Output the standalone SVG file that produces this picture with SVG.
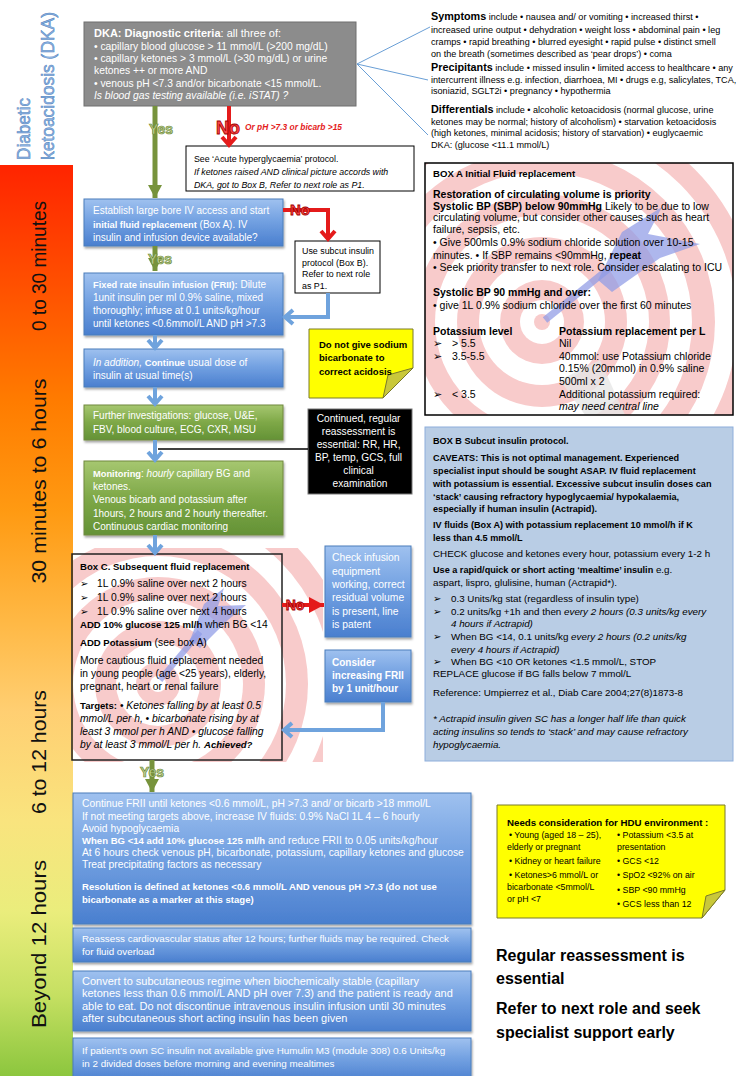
<svg xmlns="http://www.w3.org/2000/svg" width="740" height="1076" viewBox="0 0 740 1076">
<defs>
<linearGradient id="gBar" x1="0" y1="165" x2="0" y2="1076" gradientUnits="userSpaceOnUse">
<stop offset="0" stop-color="#ff2400"/><stop offset="0.12" stop-color="#ff4c00"/><stop offset="0.26" stop-color="#ff7c00"/><stop offset="0.38" stop-color="#ff9a12"/><stop offset="0.5" stop-color="#ffb844"/><stop offset="0.6" stop-color="#ffcf72"/><stop offset="0.72" stop-color="#f9e47e"/><stop offset="0.82" stop-color="#eaed7c"/><stop offset="0.91" stop-color="#c6e062"/><stop offset="1" stop-color="#8cc63e"/>
</linearGradient>
<linearGradient id="gBlue" x1="0" y1="0" x2="0" y2="1">
<stop offset="0" stop-color="#9fc1ef"/><stop offset="0.45" stop-color="#74a2e2"/><stop offset="1" stop-color="#4a7fcf"/>
</linearGradient>
<linearGradient id="gGreen" x1="0" y1="0" x2="0" y2="1">
<stop offset="0" stop-color="#a6c770"/><stop offset="0.5" stop-color="#7ea847"/><stop offset="1" stop-color="#649236"/>
</linearGradient>
<filter id="sh" x="-5%" y="-10%" width="115%" height="130%"><feDropShadow dx="1" dy="2" stdDeviation="1.2" flood-color="#000" flood-opacity="0.35"/></filter>
<clipPath id="clipA"><rect x="425" y="163" width="308" height="252"/></clipPath>
<clipPath id="clipC"><rect x="73" y="548" width="250" height="214"/></clipPath>
<marker id="mBlue" markerUnits="userSpaceOnUse" markerWidth="18" markerHeight="18" refX="13" refY="9" orient="auto"><path d="M5,2 L13,9 L5,16" fill="none" stroke="#6fa3dd" stroke-width="4"/></marker>
<marker id="mRed" markerUnits="userSpaceOnUse" markerWidth="18" markerHeight="18" refX="13" refY="9" orient="auto"><path d="M5,2 L13,9 L5,16" fill="none" stroke="#e41b1b" stroke-width="4"/></marker>
<marker id="mGreen" markerUnits="userSpaceOnUse" markerWidth="14" markerHeight="14" refX="13" refY="7" orient="auto"><path d="M0,0 L13,7 L0,14 z" fill="#77933c"/></marker>
<marker id="mRedT" markerUnits="userSpaceOnUse" markerWidth="16" markerHeight="16" refX="15" refY="8" orient="auto"><path d="M0,0 L15,8 L0,16 z" fill="#e41b1b"/></marker>
</defs>
<style>
text{font-family:"Liberation Sans",Arial,sans-serif}
.w{fill:#fff}
.k{fill:#000}
.B{font-weight:bold}
.b{font-weight:bold;font-size:93%}
.i{font-style:italic}
.blue{fill:url(#gBlue);stroke:#4a7ebb;stroke-width:1;filter:url(#sh)}
.green{fill:url(#gGreen);stroke:#71893f;stroke-width:1;filter:url(#sh)}
.plain{fill:#fff;stroke:#000;stroke-width:1}
.note{fill:#ffff00;stroke:#7a7a2a;stroke-width:1}
.fold{fill:#c9c83a;stroke:#7a7a2a;stroke-width:1}
.pink{fill:#f8cbcb}
.wh{fill:#fff}
.dart{fill:#8f9be6;opacity:0.72}
.cB{stroke:#6fa3dd;stroke-width:4;fill:none}
.cG{stroke:#77933c;stroke-width:5;fill:none}
.cR{stroke:#e41b1b;stroke-width:4;fill:none}
.fan{stroke:#6a9fd6;stroke-width:1;fill:none}
.yes{font-weight:bold;font-size:14px;fill:#c4d79b;stroke:#6e8a36;stroke-width:0.7}
.no{font-weight:bold;fill:#ff4646;stroke:#a00000;stroke-width:0.8}
.tl{font-size:21px;fill:#111}
.dka{font-size:19px;fill:#8db3e2;stroke:#4f81bd;stroke-width:0.5}
</style>

<g id="timeline">
<rect x="0" y="165" width="73" height="911" fill="url(#gBar)"/>
<text class="tl" transform="translate(46,266) rotate(-90)" text-anchor="middle" textLength="130" lengthAdjust="spacingAndGlyphs">0 to 30 minutes</text>
<text class="tl" transform="translate(46,481) rotate(-90)" text-anchor="middle" textLength="205" lengthAdjust="spacingAndGlyphs">30 minutes to 6 hours</text>
<text class="tl" transform="translate(46,752) rotate(-90)" text-anchor="middle" textLength="124" lengthAdjust="spacingAndGlyphs">6 to 12 hours</text>
<text class="tl" transform="translate(46,944) rotate(-90)" text-anchor="middle" textLength="168" lengthAdjust="spacingAndGlyphs">Beyond 12 hours</text>
<text class="dka" transform="translate(30,160) rotate(-90)" textLength="62" lengthAdjust="spacingAndGlyphs">Diabetic</text>
<text class="dka" transform="translate(54,160) rotate(-90)" textLength="148" lengthAdjust="spacingAndGlyphs">ketoacidosis (DKA)</text>
</g>

<g id="n-criteria">
<rect x="84" y="22" width="272" height="84" fill="#8c8c8c" stroke="#6f6f6f"/>
<text class="w" font-size="10.3">
<tspan x="94" y="37" font-size="11"><tspan class="B">DKA: Diagnostic criteria</tspan>: all three of:</tspan>
<tspan x="94" y="50">• capillary blood glucose &gt; 11 mmol/L (&gt;200 mg/dL)</tspan>
<tspan x="94" y="62">• capillary ketones &gt; 3 mmol/L (&gt;30 mg/dL) or urine</tspan>
<tspan x="94" y="74">ketones ++ or more AND</tspan>
<tspan x="94" y="87">• venous pH &lt;7.3 and/or bicarbonate &lt;15 mmol/L.</tspan>
<tspan x="94" y="99" class="i">Is blood gas testing available (i.e. iSTAT) ?</tspan>
</text>
</g>

<g id="n-info">
<text class="k" font-size="9.1">
<tspan x="431" y="20"><tspan class="B" font-size="10.8">Symptoms</tspan> include • nausea and/ or vomiting • increased thirst •</tspan>
<tspan x="431" y="33">increased urine output • dehydration • weight loss • abdominal pain • leg</tspan>
<tspan x="431" y="45">cramps • rapid breathing • blurred eyesight • rapid pulse • distinct smell</tspan>
<tspan x="431" y="57">on the breath (sometimes described as ‘pear drops’) • coma</tspan>
<tspan x="431" y="71"><tspan class="B" font-size="10.8">Precipitants</tspan> include • missed insulin • limited access to healthcare • any</tspan>
<tspan x="431" y="83">intercurrent illness e.g. infection, diarrhoea, MI • drugs e.g, salicylates, TCA,</tspan>
<tspan x="431" y="94">isoniazid, SGLT2i • pregnancy  • hypothermia</tspan>
<tspan x="431" y="113"><tspan class="B" font-size="10.8">Differentials</tspan> include • alcoholic ketoacidosis (normal glucose, urine</tspan>
<tspan x="431" y="125">ketones may be normal; history of alcoholism) • starvation ketoacidosis</tspan>
<tspan x="431" y="136">(high ketones, minimal acidosis; history of starvation) • euglycaemic</tspan>
<tspan x="431" y="148">DKA: (glucose &lt;11.1 mmol/L)</tspan>
</text>
</g>

<g id="n-acute">
<rect x="186" y="146" width="228" height="45" class="plain"/>
<text class="k" font-size="8.8">
<tspan x="194" y="162">See ‘Acute hyperglycaemia’ protocol.</tspan>
<tspan x="194" y="175" class="i">If ketones raised AND clinical picture accords with</tspan>
<tspan x="194" y="188" class="i">DKA, got to Box B, Refer to next role as P1.</tspan>
</text>
</g>

<g id="n-access">
<rect x="84" y="199" width="199" height="47" class="blue"/>
<text class="w" font-size="10">
<tspan x="93" y="214">Establish large bore IV access and start</tspan>
<tspan x="93" y="228"><tspan class="b">initial fluid replacement</tspan> (Box A). IV</tspan>
<tspan x="93" y="241">insulin and infusion device available?</tspan>
</text>
</g>

<g id="n-subcut">
<rect x="295" y="241" width="85" height="52" class="plain"/>
<text class="k" font-size="8.9">
<tspan x="302" y="254">Use subcut insulin</tspan>
<tspan x="302" y="266">protocol (Box B).</tspan>
<tspan x="302" y="277">Refer to next role</tspan>
<tspan x="302" y="289">as P1.</tspan>
</text>
</g>

<g id="n-boxA">
<rect x="425" y="163" width="308" height="252" fill="#fff"/>
<g clip-path="url(#clipA)">
<circle cx="542" cy="322" r="240" class="wh"/>
<circle cx="542" cy="322" r="216" class="pink"/>
<circle cx="542" cy="322" r="195" class="wh"/>
<circle cx="542" cy="322" r="173" class="pink"/>
<circle cx="542" cy="322" r="150" class="wh"/>
<circle cx="542" cy="322" r="128" class="pink"/>
<circle cx="542" cy="322" r="107" class="wh"/>
<circle cx="542" cy="322" r="85" class="pink"/>
<circle cx="542" cy="322" r="63" class="wh"/>
<circle cx="542" cy="322" r="42" class="pink"/>
<circle cx="542" cy="322" r="22" class="wh"/>
<circle cx="542" cy="322" r="8" class="pink"/>
<path d="M560,380 L600,360 L625,415 L585,415 z" fill="#e6e6e6" opacity="0.8"/>
<line x1="545" y1="320" x2="612" y2="266" stroke="#8f9be6" stroke-width="7" opacity="0.72"/>
<path class="dart" d="M598,280 L622,232 L662,207 L648,234 L700,244 L660,258 L612,292 z"/>
</g>
<rect x="425" y="163" width="308" height="252" fill="none" stroke="#000" stroke-width="1.5"/>
<text class="k" font-size="10.5">
<tspan x="433" y="177" class="B" font-size="9.6">BOX A Initial Fluid replacement</tspan>
<tspan x="433" y="198" class="B">Restoration of circulating volume is priority</tspan>
<tspan x="433" y="210"><tspan class="B">Systolic BP (SBP) below 90mmHg</tspan> Likely to be due to low</tspan>
<tspan x="433" y="221">circulating volume, but consider other causes such as heart</tspan>
<tspan x="433" y="233">failure, sepsis, etc.</tspan>
<tspan x="433" y="246">• Give 500mls 0.9% sodium chloride solution over 10-15</tspan>
<tspan x="433" y="259">minutes. • If SBP remains &lt;90mmHg, <tspan class="B">repeat</tspan></tspan>
<tspan x="433" y="271">• Seek priority transfer to next role. Consider escalating to ICU</tspan>
<tspan x="433" y="296" class="B">Systolic BP 90 mmHg and over:</tspan>
<tspan x="433" y="309">• give 1L 0.9% sodium chloride over the first 60 minutes</tspan>
<tspan x="433" y="335" class="B">Potassium level</tspan><tspan x="559" y="335" class="B">Potassium replacement per L</tspan>
<tspan x="433" y="347">➢</tspan><tspan x="452" y="347">&gt; 5.5</tspan><tspan x="559" y="347">Nil</tspan>
<tspan x="433" y="360">➢</tspan><tspan x="452" y="360">3.5-5.5</tspan><tspan x="559" y="360">40mmol: use Potassium chloride</tspan>
<tspan x="559" y="372">0.15% (20mmol) in 0.9% saline</tspan>
<tspan x="559" y="385">500ml x 2</tspan>
<tspan x="433" y="398">➢</tspan><tspan x="452" y="398">&lt; 3.5</tspan><tspan x="559" y="398">Additional potassium required:</tspan>
<tspan x="559" y="410" class="i">may need central line</tspan>
</text>
</g>

<g id="n-frii">
<rect x="84" y="273" width="199" height="62" class="blue"/>
<text class="w" font-size="10">
<tspan x="93" y="288"><tspan class="b">Fixed rate insulin infusion (FRII):</tspan> Dilute</tspan>
<tspan x="93" y="301">1unit insulin per ml 0.9% saline, mixed</tspan>
<tspan x="93" y="314">thoroughly; infuse at 0.1 units/kg/hour</tspan>
<tspan x="93" y="327">until ketones &lt;0.6mmol/L AND pH &gt;7.3</tspan>
</text>
</g>

<g id="n-bicarb">
<path class="note" d="M309,329 H413 V368 L383,398 H309 z"/>
<path class="fold" d="M413,368 L388,375 L383,398 z"/>
<text class="k B" font-size="9.5">
<tspan x="319" y="348">Do not give sodium</tspan>
<tspan x="319" y="361">bicarbonate to</tspan>
<tspan x="319" y="375">correct acidosis</tspan>
</text>
</g>

<g id="n-usual">
<rect x="84" y="349" width="199" height="38" class="blue"/>
<text class="w" font-size="10">
<tspan x="93" y="366"><tspan class="i">In addition,</tspan> <tspan class="b">Continue</tspan> usual dose of</tspan>
<tspan x="93" y="379">insulin at usual time(s)</tspan>
</text>
</g>

<g id="n-invest">
<rect x="84" y="405" width="199" height="35" class="green"/>
<text class="w" font-size="10">
<tspan x="93" y="419">Further investigations: glucose, U&amp;E,</tspan>
<tspan x="93" y="433">FBV, blood culture, ECG, CXR, MSU</tspan>
</text>
</g>

<g id="n-reassess">
<rect x="308" y="409" width="104" height="85" fill="#000" stroke="#777"/>
<text class="w" font-size="10.2" text-anchor="middle">
<tspan x="360" y="422">Continued, regular</tspan>
<tspan x="360" y="435">reassessment is</tspan>
<tspan x="360" y="448">essential: RR, HR,</tspan>
<tspan x="360" y="461">BP, temp, GCS, full</tspan>
<tspan x="360" y="474">clinical</tspan>
<tspan x="360" y="487">examination</tspan>
</text>
</g>

<g id="n-monitor">
<rect x="84" y="461" width="199" height="74" class="green"/>
<text class="w" font-size="10">
<tspan x="93" y="477"><tspan class="b">Monitoring</tspan>: <tspan class="i">hourly</tspan> capillary BG and</tspan>
<tspan x="93" y="490">ketones.</tspan>
<tspan x="93" y="503">Venous bicarb and potassium after</tspan>
<tspan x="93" y="517">1hours, 2 hours and 2 hourly thereafter.</tspan>
<tspan x="93" y="530">Continuous cardiac monitoring</tspan>
</text>
</g>

<g id="n-boxB">
<rect x="425" y="427" width="308" height="334" fill="#b9cde5" stroke="#8eaedb"/>
<text class="k" font-size="9.8">
<tspan x="433" y="444" class="b">BOX B Subcut insulin protocol.</tspan>
<tspan x="433" y="461" class="b">CAVEATS: This is not optimal management. Experienced</tspan>
<tspan x="433" y="474" class="b">specialist input should be sought ASAP. IV fluid replacement</tspan>
<tspan x="433" y="487" class="b">with potassium is essential. Excessive subcut insulin doses can</tspan>
<tspan x="433" y="500" class="b">‘stack’ causing refractory hypoglycaemia/ hypokalaemia,</tspan>
<tspan x="433" y="512" class="b">especially if human insulin (Actrapid).</tspan>
<tspan x="433" y="528" class="b">IV fluids (Box A) with potassium replacement 10 mmol/h if K</tspan>
<tspan x="433" y="541" class="b">less than 4.5 mmol/L</tspan>
<tspan x="433" y="557">CHECK glucose and ketones every hour, potassium every 1-2 h</tspan>
<tspan x="433" y="573"><tspan class="b">Use a rapid/quick or short acting ‘mealtime’ insulin</tspan> e.g.</tspan>
<tspan x="433" y="586">aspart, lispro, glulisine, human (Actrapid*).</tspan>
<tspan x="433" y="602">➢</tspan><tspan x="451" y="602">0.3 Units/kg stat (regardless of insulin type)</tspan>
<tspan x="433" y="615">➢</tspan><tspan x="451" y="615">0.2 units/kg +1h and then <tspan class="i">every 2 hours (0.3 units/kg every</tspan></tspan>
<tspan x="451" y="627" class="i">4 hours if Actrapid)</tspan>
<tspan x="433" y="640">➢</tspan><tspan x="451" y="640">When BG &lt;14, 0.1 units/kg <tspan class="i">every 2 hours (0.2 units/kg</tspan></tspan>
<tspan x="451" y="653" class="i">every 4 hours if Actrapid)</tspan>
<tspan x="433" y="665">➢</tspan><tspan x="451" y="665">When BG &lt;10 OR ketones &lt;1.5 mmol/L, STOP</tspan>
<tspan x="433" y="677">REPLACE glucose if BG falls below 7 mmol/L</tspan>
<tspan x="433" y="696">Reference: Umpierrez et al., Diab Care 2004;27(8)1873-8</tspan>
<tspan x="433" y="722" class="i">* Actrapid insulin given SC has a longer half life than quick</tspan>
<tspan x="433" y="735" class="i">acting insulins so tends to ‘stack’ and may cause refractory</tspan>
<tspan x="433" y="748" class="i">hypoglycaemia.</tspan>
</text>
</g>

<g id="n-boxC">
<g clip-path="url(#clipC)">
<rect x="73" y="548" width="250" height="214" fill="#fff"/>
<circle cx="158" cy="684" r="195" class="pink"/>
<circle cx="158" cy="684" r="173" class="wh"/>
<circle cx="158" cy="684" r="150" class="pink"/>
<circle cx="158" cy="684" r="128" class="wh"/>
<circle cx="158" cy="684" r="107" class="pink"/>
<circle cx="158" cy="684" r="85" class="wh"/>
<circle cx="158" cy="684" r="63" class="pink"/>
<circle cx="158" cy="684" r="42" class="wh"/>
<circle cx="158" cy="684" r="22" class="pink"/>
<circle cx="158" cy="684" r="8" class="wh"/>
<line x1="160" y1="680" x2="200" y2="632" stroke="#8f9be6" stroke-width="6" opacity="0.72"/>
<path class="dart" d="M190,640 L204,604 L224,588 L218,606 L246,605 L228,620 L200,648 z"/>
</g>
<rect x="72" y="554" width="210" height="206" fill="none" stroke="#222" stroke-width="1.5"/>
<text class="k" font-size="10.3">
<tspan x="80" y="570" class="b">Box C. Subsequent fluid replacement</tspan>
<tspan x="80" y="587">➢</tspan><tspan x="97" y="587">1L 0.9% saline over next 2 hours</tspan>
<tspan x="80" y="601">➢</tspan><tspan x="97" y="601">1L 0.9% saline over next 2 hours</tspan>
<tspan x="80" y="615">➢</tspan><tspan x="97" y="615">1L 0.9% saline over next 4 hours</tspan>
<tspan x="80" y="628"><tspan class="b">ADD 10% glucose 125 ml/h</tspan>  when BG &lt;14</tspan>
<tspan x="80" y="646"><tspan class="b">ADD Potassium</tspan> (see box A)</tspan>
<tspan x="80" y="664">More cautious fluid replacement needed</tspan>
<tspan x="80" y="677">in young people (age &lt;25 years), elderly,</tspan>
<tspan x="80" y="690">pregnant, heart or renal failure</tspan>
<tspan x="80" y="709"><tspan class="b">Targets:</tspan> • <tspan class="i">Ketones falling by at least 0.5</tspan></tspan>
<tspan x="80" y="722" class="i">mmol/L per h, • bicarbonate rising by at</tspan>
<tspan x="80" y="735" class="i">least 3 mmol per h AND • glucose falling</tspan>
<tspan x="80" y="748"><tspan class="i">by at least 3 mmol/L per h.</tspan> <tspan class="b i">Achieved?</tspan></tspan>
</text>
</g>

<g id="n-check">
<rect x="325" y="546" width="86" height="91" class="blue"/>
<text class="w" font-size="10.3">
<tspan x="332" y="561">Check infusion</tspan>
<tspan x="332" y="575">equipment</tspan>
<tspan x="332" y="588">working, correct</tspan>
<tspan x="332" y="601">residual volume</tspan>
<tspan x="332" y="615">is present, line</tspan>
<tspan x="332" y="628">is patent</tspan>
</text>
</g>

<g id="n-consider">
<rect x="325" y="650" width="86" height="52" class="blue"/>
<text class="w B" font-size="10">
<tspan x="332" y="666">Consider</tspan>
<tspan x="332" y="679">increasing FRII</tspan>
<tspan x="332" y="692">by 1 unit/hour</tspan>
</text>
</g>

<g id="n-continue">
<rect x="73" y="793" width="398" height="131" class="blue"/>
<text class="w" font-size="10.3">
<tspan x="82" y="807">Continue FRII until ketones &lt;0.6 mmol/L, pH &gt;7.3 and/ or bicarb &gt;18 mmol/L</tspan>
<tspan x="82" y="820">If not meeting targets above, increase IV fluids: 0.9% NaCl 1L 4 – 6 hourly</tspan>
<tspan x="82" y="832">Avoid hypoglycaemia</tspan>
<tspan x="82" y="844"><tspan class="b">When BG &lt;14 add 10% glucose 125 ml/h</tspan> and reduce  FRII to 0.05 units/kg/hour</tspan>
<tspan x="82" y="856">At 6 hours check venous pH, bicarbonate, potassium, capillary ketones and glucose</tspan>
<tspan x="82" y="868">Treat precipitating factors as necessary</tspan>
<tspan x="82" y="890" class="b">Resolution is defined at ketones &lt;0.6 mmol/L AND venous pH &gt;7.3 (do not use</tspan>
<tspan x="82" y="903" class="b">bicarbonate as a marker at this stage)</tspan>
</text>
</g>

<g id="n-cardio">
<rect x="73" y="928" width="398" height="34" class="blue"/>
<text class="w" font-size="9.8">
<tspan x="82" y="942">Reassess cardiovascular status after 12 hours; further fluids may be required. Check</tspan>
<tspan x="82" y="955">for fluid overload</tspan>
</text>
</g>

<g id="n-convert">
<rect x="73" y="971" width="398" height="60" class="blue"/>
<text class="w" font-size="11">
<tspan x="82" y="985">Convert to subcutaneous regime when biochemically stable (capillary</tspan>
<tspan x="82" y="997">ketones less than 0.6 mmol/L AND pH over 7.3) and the patient is ready and</tspan>
<tspan x="82" y="1010">able to eat. Do not discontinue intravenous insulin infusion until 30 minutes</tspan>
<tspan x="82" y="1022">after subcutaneous short acting insulin has been given</tspan>
</text>
</g>

<g id="n-humulin">
<rect x="73" y="1038" width="398" height="44" class="blue"/>
<text class="w" font-size="9.9">
<tspan x="82" y="1054">If patient’s own SC insulin not available give Humulin M3 (module 308) 0.6 Units/kg</tspan>
<tspan x="82" y="1067">in 2 divided doses before morning and evening mealtimes</tspan>
</text>
</g>

<g id="n-hdu">
<path class="note" d="M497,805 H725 V890 L702,918 H497 z"/>
<path class="fold" d="M725,890 L706,896 L702,918 z"/>
<text class="k" font-size="8.8">
<tspan x="507" y="826" class="B" font-size="9.7">Needs consideration for HDU environment :</tspan>
<tspan x="509" y="838">• Young (aged 18 – 25),</tspan>
<tspan x="507" y="850">elderly or pregnant</tspan>
<tspan x="509" y="864">• Kidney or heart failure</tspan>
<tspan x="509" y="878">• Ketones&gt;6 mmol/L or</tspan>
<tspan x="507" y="890">bicarbonate &lt;5mmol/L</tspan>
<tspan x="507" y="902">or pH &lt;7</tspan>
<tspan x="617" y="838">• Potassium &lt;3.5 at</tspan>
<tspan x="617" y="850">presentation</tspan>
<tspan x="617" y="864">• GCS &lt;12</tspan>
<tspan x="617" y="878">• SpO2 &lt;92% on air</tspan>
<tspan x="617" y="893">• SBP  &lt;90 mmHg</tspan>
<tspan x="617" y="907">• GCS less than 12</tspan>
</text>
</g>

<g id="n-regular">
<text class="k B" font-size="16">
<tspan x="496" y="961">Regular reassessment is</tspan>
<tspan x="496" y="984">essential</tspan>
<tspan x="496" y="1014">Refer to next role and seek</tspan>
<tspan x="496" y="1038">specialist support early</tspan>
</text>
</g>

<g id="connectors">
<path class="fan" d="M357,64 L430,27 M357,64 L428,80 M357,64 L428,135"/>
<path class="cG" d="M155,106 V198" marker-end="url(#mGreen)"/>
<path class="cR" d="M229,106 V145" marker-end="url(#mRed)"/>
<path class="cR" d="M283,210 H328 V239" marker-end="url(#mRed)"/>
<path class="cG" d="M155,246 V271" marker-end="url(#mGreen)"/>
<path class="cB" d="M328,293 V317 H285" marker-end="url(#mBlue)"/>
<path class="cB" d="M155,335 V348" marker-end="url(#mBlue)"/>
<path class="cB" d="M155,387 V404" marker-end="url(#mBlue)"/>
<path class="cB" d="M155,440 V460" marker-end="url(#mBlue)"/>
<path d="M158,449 H308" stroke="#000" stroke-width="1.3" fill="none"/>
<path class="cB" d="M155,535 V553" marker-end="url(#mBlue)"/>
<path class="cR" d="M282,605 H324" marker-end="url(#mRedT)"/>
<path class="cB" d="M383,702 V730 H284" marker-end="url(#mBlue)"/>
<path class="cG" d="M152,760 V792" marker-end="url(#mGreen)"/>
<text class="yes" x="149" y="134">Yes</text>
<text class="yes" x="148" y="264">Yes</text>
<text class="yes" x="140" y="777">Yes</text>
<text class="no" x="228" y="134" font-size="18" text-anchor="middle">No</text>
<text x="245" y="130" font-size="8.5" font-weight="bold" font-style="italic" fill="#e41b1b" textLength="97" lengthAdjust="spacingAndGlyphs">Or pH &gt;7.3 or bicarb &gt;15</text>
<text class="no" x="300" y="215" font-size="15" text-anchor="middle">No</text>
<text class="no" x="295" y="610" font-size="14" text-anchor="middle">No</text>
</g>
</svg>
